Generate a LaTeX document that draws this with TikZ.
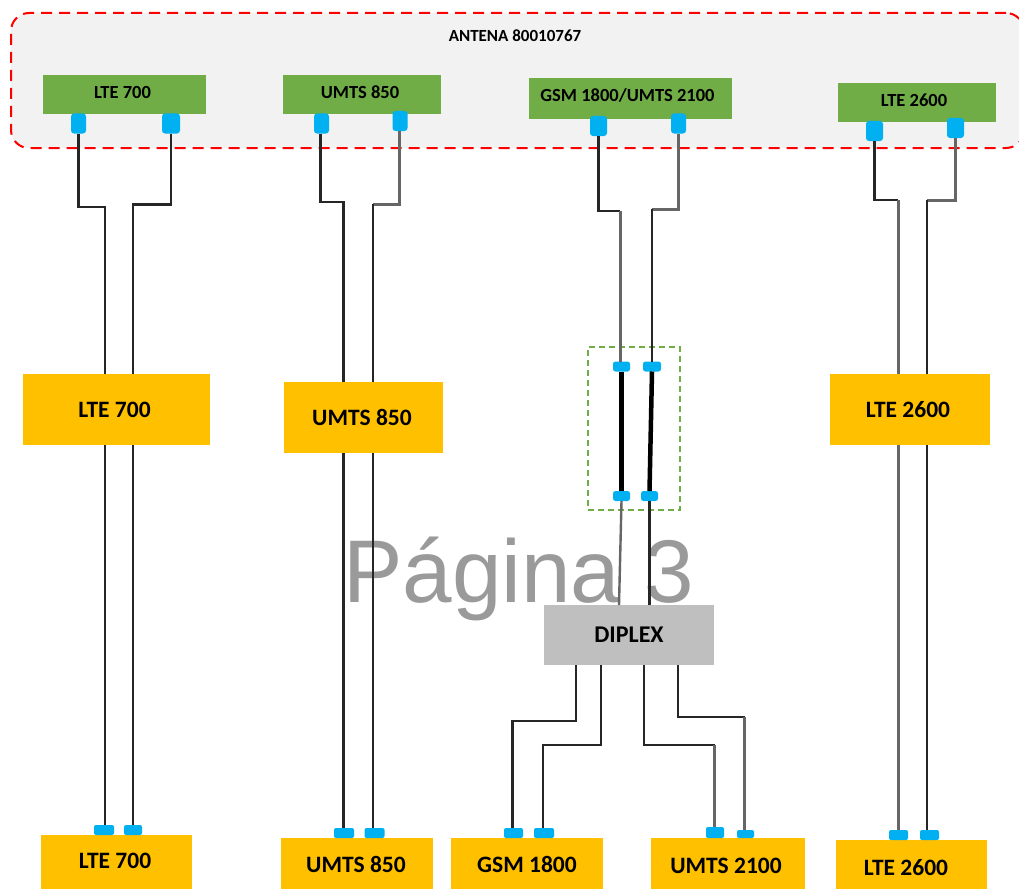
\documentclass[tikz,border=0pt]{standalone}
\usepackage{fontspec}
\setmainfont{Carlito}
\newfontfamily\wmfont{Liberation Sans}
\definecolor{antfill}{HTML}{F2F2F2}
\definecolor{antgreen}{HTML}{70AD47}
\definecolor{portblue}{HTML}{00B0F0}
\definecolor{boxgold}{HTML}{FFC000}
\definecolor{diplexgray}{HTML}{BFBFBF}
\definecolor{wmgray}{HTML}{9A9A9A}
\definecolor{cabledark}{HTML}{262626}
\definecolor{cablemid}{HTML}{666666}
\tikzset{
  rectbox/.style 2 args={inner sep=0pt,outer sep=0pt,minimum width=#1pt,minimum height=#2pt},
  antband/.style={draw=antgreen,fill=antgreen,line width=0.5pt},
  antlabel/.style={inner sep=0pt,text=black,font=\fontsize{18.5}{18}\selectfont\bfseries},
  goldbox/.style={fill=boxgold,text=black,font=\fontsize{23.5}{23}\selectfont\bfseries},
  port/.style={fill=portblue,rounded corners=3pt},
  cable/.style={draw=cabledark,line width=2.4pt,line join=miter},
  cablegrey/.style={draw=cablemid,line width=3pt,line join=miter},
  thickcable/.style={draw=black,line width=4.5pt},
}
\begin{document}
\begin{tikzpicture}[x=1pt,y=-1pt]
\clip (0,0) rectangle (1019,888);
\fill[white] (0,0) rectangle (1019,888);
% watermark
\node[anchor=base west,inner sep=0pt,text=wmgray,font=\fontsize{89}{89}\selectfont\wmfont] (wm) at (343,602) {Página 3};
% antenna container
\node[rectbox={1013}{135},fill=antfill,draw=red,line width=2pt,dash pattern=on 11pt off 7pt,rounded corners=18pt] (ant) at (517.5,80.5) {};
\node[inner sep=0pt,text=black,font=\fontsize{17}{17}\selectfont\bfseries] (anttitle) at (515,36) {ANTENA 80010767};
% green bands
\node[rectbox={162}{38},antband] (g1) at (124,94) {};
\node[rectbox={157}{38},antband] (g2) at (362,94) {};
\node[rectbox={202}{40},antband] (g3) at (630,98) {};
\node[rectbox={157}{38},antband] (g4) at (916.5,102) {};
\node[antlabel] (g1t) at (122.5,92) {LTE 700};
\node[antlabel] (g2t) at (360,92) {UMTS 850};
\node[antlabel] (g3t) at (627.5,95.5) {GSM 1800/UMTS 2100};
\node[antlabel] (g4t) at (914,100) {LTE 2600};
% antenna ports
\node[rectbox={15}{20},port] (a1l) at (78.5,123.5) {};
\node[rectbox={18}{20},port] (a1r) at (171,123.5) {};
\node[rectbox={15}{20},port] (a2l) at (321.5,123.5) {};
\node[rectbox={15}{20},port] (a2r) at (400,121) {};
\node[rectbox={17}{20},port] (a3l) at (598.5,126) {};
\node[rectbox={15}{20},port] (a3r) at (678.5,123.5) {};
\node[rectbox={17}{20},port] (a4l) at (874.5,131) {};
\node[rectbox={17}{20},port] (a4r) at (955.5,128) {};
% gold mid boxes
\node[rectbox={187}{71},goldbox] (m1) at (116.5,409.5) {};
\node[rectbox={159}{71},goldbox] (m2) at (363.5,417.5) {};
\node[rectbox={160}{71},goldbox] (m4) at (910,409.5) {};
\node[goldbox,fill=none,inner sep=0pt] (m1t) at (114.5,409.5) {LTE 700};
\node[goldbox,fill=none,inner sep=0pt] (m2t) at (362,417.5) {UMTS 850};
\node[goldbox,fill=none,inner sep=0pt] (m4t) at (908,409.5) {LTE 2600};
% bottom boxes
\node[rectbox={151}{56},goldbox,anchor=north west] (b1) at (41,835) {};
\node[rectbox={152}{54},goldbox,anchor=north west] (b2) at (281,838) {};
\node[rectbox={152}{54},goldbox,anchor=north west] (b3) at (451,838) {};
\node[rectbox={154}{54},goldbox,anchor=north west] (b4) at (651,838) {};
\node[rectbox={151}{52},goldbox,anchor=north west] (b5) at (836,840) {};
\node[goldbox,fill=none,inner sep=0pt] (t1) at (115,861) {LTE 700};
\node[goldbox,fill=none,inner sep=0pt] (t2) at (356,864) {UMTS 850};
\node[goldbox,fill=none,inner sep=0pt] (t3) at (527,864) {GSM 1800};
\node[goldbox,fill=none,inner sep=0pt] (t4) at (726,866) {UMTS 2100};
\node[goldbox,fill=none,inner sep=0pt] (t5) at (906,868) {LTE 2600};
% bottom ports
\node[rectbox={20}{10},port,rounded corners=2pt] (p1l) at (104,830) {};
\node[rectbox={18}{10},port,rounded corners=2pt] (p1r) at (133,830) {};
\node[rectbox={20}{10},port,rounded corners=2pt] (p2l) at (344,833) {};
\node[rectbox={20}{10},port,rounded corners=2pt] (p2r) at (374.5,833) {};
\node[rectbox={19}{10},port,rounded corners=2pt] (p3l) at (513.5,833) {};
\node[rectbox={20}{10},port,rounded corners=2pt] (p3r) at (544,833) {};
\node[rectbox={18}{11},port,rounded corners=2pt] (p4l) at (715,832.5) {};
\node[rectbox={17}{8},port,rounded corners=2pt] (p4r) at (745.5,834) {};
\node[rectbox={19}{10},port,rounded corners=2pt] (p5l) at (898.5,835) {};
\node[rectbox={19}{10},port,rounded corners=2pt] (p5r) at (929.5,835) {};
% jumper box
\node[rectbox={92}{163},draw=antgreen,line width=1.2pt,dash pattern=on 6pt off 4pt] (jump) at (634,428.5) {};
\node[rectbox={17}{10},port,rounded corners=2.5pt] (j1t) at (621.5,366.5) {};
\node[rectbox={18}{10},port,rounded corners=2.5pt] (j2t) at (652,366.5) {};
\node[rectbox={17}{10},port,rounded corners=2.5pt] (j1b) at (621.5,496) {};
\node[rectbox={17}{10},port,rounded corners=2.5pt] (j2b) at (649.5,496) {};
% diplex
\node[rectbox={170}{60},fill=diplexgray,text=black,font=\fontsize{24}{24}\selectfont\bfseries] (dip) at (629,635) {DIPLEX};
% LTE 700 cables
\draw[cable] (a1l.south) |- (105,207) -- (105,207 |- m1.north);
\draw[cable] (a1r.south) |- (133,204.5) -- (133,204.5 |- m1.north);
\draw[cable] (105,445 |- m1.south) -- (105,445 |- p1l.north);
\draw[cable] (133,445 |- m1.south) -- (133,445 |- p1r.north);
% UMTS 850 cables
\draw[cable] (320.5,134 |- a2l.south) |- (343.5,202) -- (343.5,202 |- m2.north);
\draw[cablegrey] (399.5,131 |- a2r.south) |- (373,204);
\draw[cable] (373,204) -- (373,204 |- m2.north);
\draw[cable] (343.5,453 |- m2.south) -- (343.5,453 |- p2l.north);
\draw[cable] (373,453 |- m2.south) -- (373,453 |- p2r.north);
% GSM/UMTS 2100 cables
\draw[cable] (a3l.south) |- (620,211);
\draw[cablegrey] (620,211) -- (620,211 |- j1t.north);
\draw[cablegrey] (a3r.south) |- (652,209);
\draw[cable] (652,209) -- (652,209 |- j2t.north);
\draw[thickcable] (j1t.south) -- (j1b.north);
\draw[thickcable] (j2t.south) -- (j2b.north);
\draw[cablegrey,line width=2.4pt] (j1b.south) -- (619,605 |- dip.north);
\draw[cable] (j2b.south) -- (649.5,605 |- dip.north);
% LTE 2600 cables
\draw[cable] (a4l.south) |- (898,200);
\draw[cablegrey] (898,200) -- (898,200 |- m4.north);
\draw[cablegrey] (a4r.south) |- (927,200);
\draw[cable] (927,200) -- (927,200 |- m4.north);
\draw[cablegrey] (898,445 |- m4.south) -- (898,445 |- p5l.north);
\draw[cable] (927,445 |- m4.south) -- (927,445 |- p5r.north);
% diplex outputs
\draw[cable] (576,665 |- dip.south) |- (512.5,721) -- (512.5,721 |- p3l.north);
\draw[cable] (601,665 |- dip.south) |- (543,745) -- (543,745 |- p3r.north);
\draw[cable] (644,665 |- dip.south) |- (714.5,745);
\draw[cablegrey] (714.5,745) -- (714.5,745 |- p4l.north);
\draw[cable] (678,665 |- dip.south) |- (744.5,717);
\draw[cablegrey] (744.5,717) -- (744.5,717 |- p4r.north);
\end{tikzpicture}
\end{document}
